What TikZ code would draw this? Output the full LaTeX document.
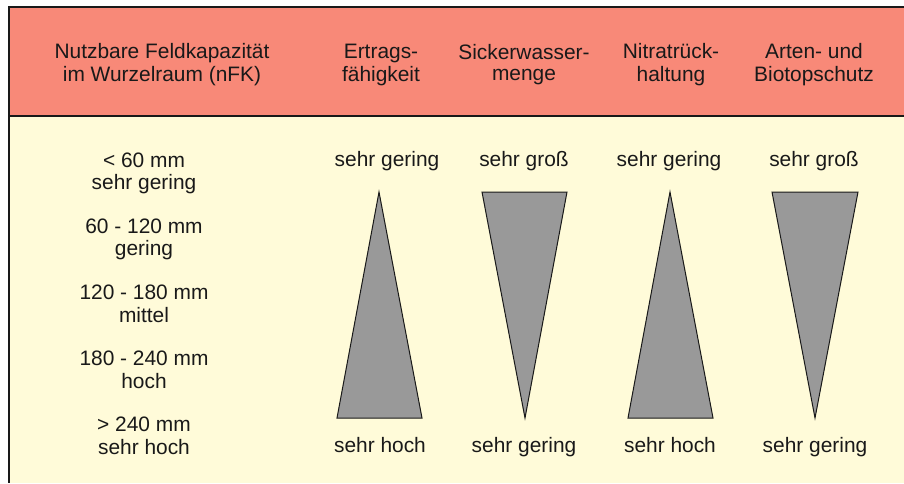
\documentclass[tikz,border=0pt]{standalone}
\usepackage{fontspec}
\setmainfont{Liberation Sans}
\definecolor{hdr}{RGB}{248,137,120}
\definecolor{bg}{RGB}{255,251,217}
\definecolor{tri}{RGB}{153,153,153}
\definecolor{ink}{RGB}{25,25,25}
\begin{document}
\begin{tikzpicture}[x=1pt,y=-1pt,
  lbl/.style={font=\fontsize{20.9}{21.5}\selectfont, text=ink, align=center, inner sep=0pt},
  wedge/.style={fill=tri, draw=ink, line width=1pt, line join=miter}]
\useasboundingbox (0,0) rectangle (904,483);
\fill[white] (0,0) rectangle (904,483);
\fill[bg] (9,116) rectangle (904,483);
\fill[hdr] (9,7) rectangle (904,116);
\draw[ink, line width=1.5pt] (904,7) -- (9,7) -- (9,483);
\draw[ink, line width=1.2pt] (9,116) -- (904,116);
% header
\node[lbl] (h0) at (162,65.5) {\strut Nutzbare Feldkapazität\\\strut im Wurzelraum (nFK)};
\node[lbl] (h1) at (381,65.5) {\strut Ertrags-\\\strut fähigkeit};
\node[lbl] (h2) at (524,65.5) {\strut Sickerwasser-\\\strut menge};
\node[lbl] (h3) at (671,65.5) {\strut Nitratrück-\\\strut haltung};
\node[lbl] (h4) at (814,65.5) {\strut Arten- und\\\strut Biotopschutz};
% left column
\node[lbl] (c1) at (144,174.2) {\strut < 60 mm\\\strut sehr gering};
\node[lbl] (c2) at (144,240.3) {\strut 60 - 120 mm\\\strut gering};
\node[lbl] (c3) at (144,306.4) {\strut 120 - 180 mm\\\strut mittel};
\node[lbl] (c4) at (144,372.5) {\strut 180 - 240 mm\\\strut hoch};
\node[lbl] (c5) at (144,438.5) {\strut > 240 mm\\\strut sehr hoch};
% top labels
\node[lbl] (t1) at (387,162.4) {\strut sehr gering};
\node[lbl] (t2) at (524,162.4) {\strut sehr groß};
\node[lbl] (t3) at (669,162.4) {\strut sehr gering};
\node[lbl] (t4) at (814,162.4) {\strut sehr groß};
% bottom labels
\node[lbl] (b1) at (380,448.4) {\strut sehr hoch};
\node[lbl] (b2) at (524,448.4) {\strut sehr gering};
\node[lbl] (b3) at (670,448.4) {\strut sehr hoch};
\node[lbl] (b4) at (815,448.4) {\strut sehr gering};
% wedges
\draw[wedge] (379,192) -- (337,418) -- (422,418) -- cycle;
\draw[wedge] (482,192) -- (567,192) -- (525,418) -- cycle;
\draw[wedge] (670,192) -- (628,418) -- (713,418) -- cycle;
\draw[wedge] (772,192) -- (858,192) -- (815,418) -- cycle;
\end{tikzpicture}
\end{document}
